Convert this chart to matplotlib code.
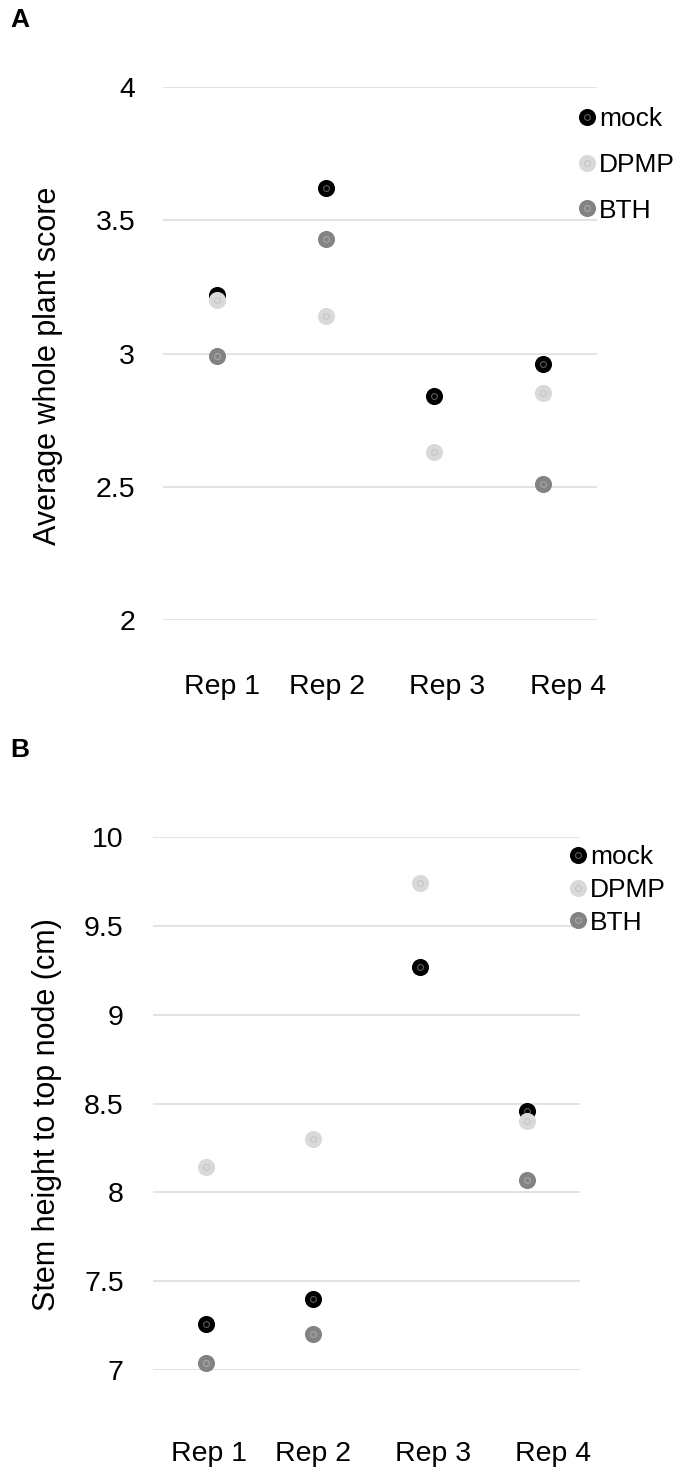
import numpy as np
import matplotlib
matplotlib.use("Agg")
import matplotlib.pyplot as plt

plt.rcParams['font.family'] = ['Liberation Sans', 'DejaVu Sans']

reps = ['Rep 1', 'Rep 2', 'Rep 3', 'Rep 4']
treatments = ['mock', 'DPMP', 'BTH']

# panel A: average whole plant score
score_mock = [3.22, 3.62, 2.84, 2.96]
score_dpmp = [3.20, 3.14, 2.63, 2.85]
score_bth = [2.99, 3.43, np.nan, 2.51]

# panel B: stem height to top node (cm)
height_mock = [7.26, 7.40, 9.27, 8.46]
height_dpmp = [8.14, 8.30, 9.74, 8.40]
height_bth = [7.04, 7.20, np.nan, 8.07]

colors = {'mock': '#000000', 'DPMP': '#d9d9d9', 'BTH': '#838383'}
rings = {'mock': '#5e5e5e', 'DPMP': '#c4c4c4', 'BTH': '#a8a8a8'}

W, H = 682, 1467
fig = plt.figure(figsize=(W / 100, H / 100), dpi=100)


def px_box(x0, y0, x1, y1):
    # pixel box (top-left origin) -> figure fraction rect
    return [x0 / W, 1 - y1 / H, (x1 - x0) / W, (y1 - y0) / H]


def dot(ax, x, y, name, **kw):
    ax.plot(x, y, 'o', ms=12.3, color=colors[name], mec=colors[name], mew=0, **kw)
    ax.plot(x, y, 'o', ms=4.2, mfc='none', mec=rings[name], mew=0.8, **kw)


def panel(rect, series, ylim, yticks, ylabel, label_x, label_pad, ytick_pad,
          ylabel_xy, legend_xy, legend_step, letter, letter_y):
    ax = fig.add_axes(px_box(*rect))
    x = np.arange(1, len(reps) + 1)
    for name, vals in zip(treatments, series):
        dot(ax, x, vals, name, clip_on=False)
    ax.set_xlim(0.5, 4.5)
    ax.set_ylim(*ylim)
    ax.set_yticks(yticks)
    ax.set_yticklabels([f'{t:g}' for t in yticks])
    ax.set_xticks(label_x)
    ax.set_xticklabels(reps)
    ax.tick_params(axis='both', length=0, labelsize=20.5)
    ax.tick_params(axis='x', pad=label_pad)
    ax.tick_params(axis='y', pad=ytick_pad)
    ax.grid(axis='y', color='#dedede', lw=1.2)
    ax.set_axisbelow(True)
    for s in ax.spines.values():
        s.set_visible(False)

    fig.text(ylabel_xy[0] / W, 1 - ylabel_xy[1] / H, ylabel, rotation=90,
             ha='center', va='center', fontsize=22)

    # hand placed legend
    lax = fig.add_axes([0, 0, 1, 1], facecolor='none')
    lax.set_xlim(0, W)
    lax.set_ylim(H, 0)
    lax.axis('off')
    lx, ly = legend_xy
    for i, name in enumerate(treatments):
        yy = ly + i * legend_step
        dot(lax, lx, yy, name)
        lax.text(lx + 12, yy, name, va='center_baseline', ha='left', fontsize=19)

    fig.text(10 / W, 1 - letter_y / H, letter, fontsize=19, fontweight='bold',
             ha='left', va='center')
    return ax


panel((163, 87, 597, 620),
      [score_mock, score_dpmp, score_bth],
      (2, 4), [2, 2.5, 3, 3.5, 4], 'Average whole plant score',
      [1.045, 2.014, 3.12, 4.23], 39, 20,
      (48, 366), (587, 117), 45.5, 'A', 20)

panel((153, 837, 580, 1370),
      [height_mock, height_dpmp, height_bth],
      (7, 10), [7, 7.5, 8, 8.5, 9, 9.5, 10], 'Stem height to top node (cm)',
      [1.025, 2.0, 3.124, 4.249], 51, 21,
      (47, 1115), (578, 855), 32.5, 'B', 750)

fig.savefig('out.png', dpi=100)
